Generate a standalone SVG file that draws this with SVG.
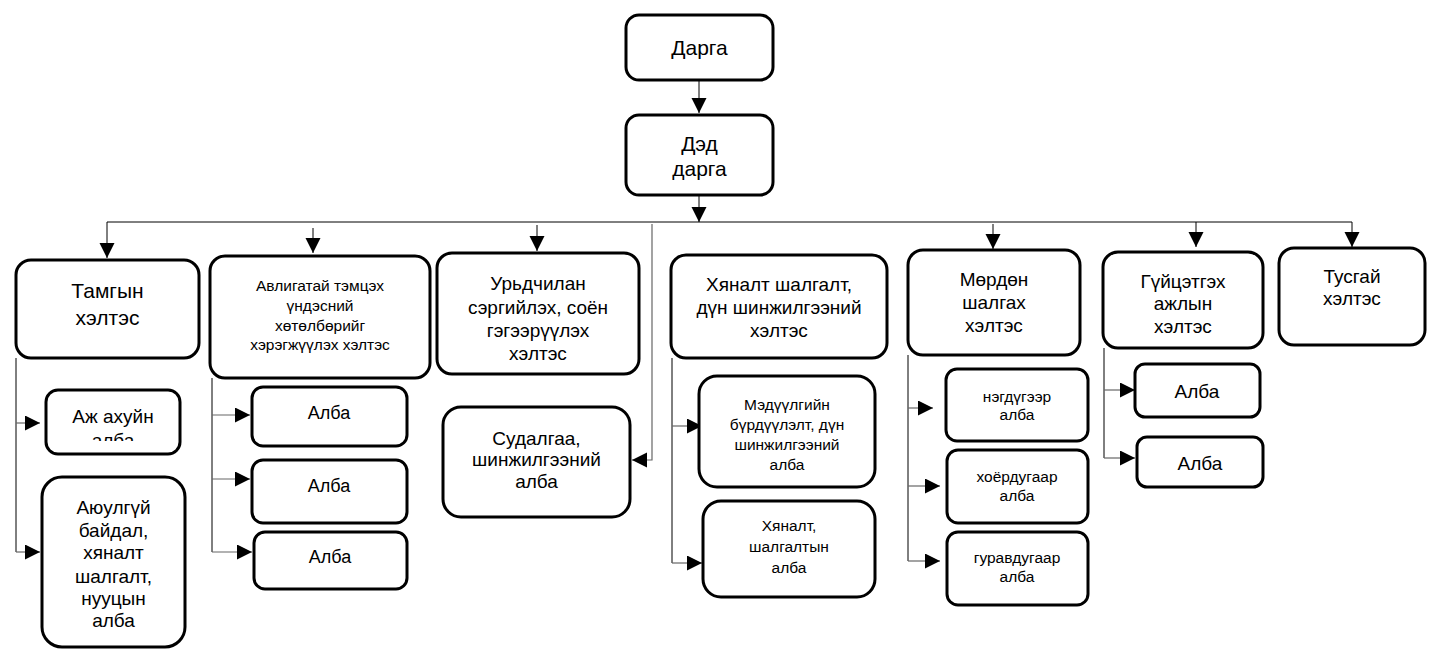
<svg xmlns="http://www.w3.org/2000/svg" width="1441" height="660" viewBox="0 0 1441 660">
<style>
.box{fill:#fff;stroke:#000;stroke-width:3}
.t{font-family:"Liberation Sans",Arial,sans-serif;font-size:19px;fill:#000;text-anchor:middle}
.b{font-size:21px}
.s{font-family:"Liberation Sans",Arial,sans-serif;font-size:15.5px;fill:#000;text-anchor:middle}
.c{fill:none;stroke:#000;stroke-width:1}
.g{fill:none;stroke:#666;stroke-width:1.2}
</style>
<defs>
<marker id="ah" markerUnits="userSpaceOnUse" markerWidth="16" markerHeight="16" refX="15" refY="7.5" orient="auto" viewBox="0 0 16 16">
<path d="M0,0 L15,7.5 L0,15 z" fill="#000"/>
</marker>
<clipPath id="clipAj"><rect x="46" y="390" width="134" height="51"/></clipPath>
</defs>

<g id="connectors">
<line class="c" x1="699" y1="80" x2="699" y2="113" marker-end="url(#ah)"/>
<line class="c" x1="699" y1="195" x2="699" y2="222" marker-end="url(#ah)"/>
<line class="c" x1="107" y1="222" x2="1352" y2="222"/>
<polyline class="c" points="107,222 107,258" marker-end="url(#ah)"/>
<line class="c" x1="313" y1="228" x2="313" y2="253" marker-end="url(#ah)"/>
<line class="c" x1="537" y1="225" x2="537" y2="251" marker-end="url(#ah)"/>
<polyline class="g" points="652,224 652,460 632,460" marker-end="url(#ah)"/>
<line class="c" x1="993" y1="224" x2="993" y2="249" marker-end="url(#ah)"/>
<line class="c" x1="1196" y1="222" x2="1196" y2="247" marker-end="url(#ah)"/>
<line class="c" x1="1352" y1="222" x2="1352" y2="247" marker-end="url(#ah)"/>

<line class="c" x1="16" y1="358" x2="16" y2="552"/>
<line class="g" x1="16" y1="423" x2="40" y2="423" marker-end="url(#ah)"/>
<line class="g" x1="16" y1="552" x2="40" y2="552" marker-end="url(#ah)"/>

<line class="c" x1="212" y1="378" x2="212" y2="552"/>
<line class="g" x1="212" y1="415" x2="250" y2="415" marker-end="url(#ah)"/>
<line class="g" x1="212" y1="479" x2="250" y2="479" marker-end="url(#ah)"/>
<line class="g" x1="212" y1="552" x2="252" y2="552" marker-end="url(#ah)"/>

<line class="c" x1="672" y1="358" x2="672" y2="563"/>
<line class="g" x1="672" y1="426" x2="702" y2="426" marker-end="url(#ah)"/>
<line class="g" x1="672" y1="563" x2="702" y2="563" marker-end="url(#ah)"/>

<line class="c" x1="908" y1="355" x2="908" y2="561"/>
<line class="g" x1="908" y1="408" x2="933" y2="408" marker-end="url(#ah)"/>
<line class="g" x1="908" y1="486" x2="940" y2="486" marker-end="url(#ah)"/>
<line class="g" x1="908" y1="561" x2="940" y2="561" marker-end="url(#ah)"/>

<line class="c" x1="1104" y1="348" x2="1104" y2="458"/>
<line class="g" x1="1104" y1="390" x2="1135" y2="390" marker-end="url(#ah)"/>
<line class="g" x1="1104" y1="458" x2="1135" y2="458" marker-end="url(#ah)"/>
</g>

<g id="darga"><rect class="box" x="626" y="15" width="147" height="65" rx="13"/><text class="t b" x="699.5" y="55">Дарга</text></g>
<g id="ded-darga"><rect class="box" x="626" y="115" width="147" height="80" rx="13"/><text class="t b" x="699.5" y="150.5">Дэд</text><text class="t b" x="699.5" y="175.5">дарга</text></g>

<g id="tamgyn"><rect class="box" x="16" y="260" width="183" height="98" rx="15"/><text class="t b" x="107.5" y="297.5">Тамгын</text><text class="t b" x="107.5" y="324.5">хэлтэс</text></g>
<g id="avligatai"><rect class="box" x="210" y="256" width="220" height="122" rx="15"/>
<text class="s" x="320" y="290.5">Авлигатай тэмцэх</text><text class="s" x="320" y="310.5">үндэсний</text><text class="s" x="320" y="330.5">хөтөлбөрийг</text><text class="s" x="320" y="349.5">хэрэгжүүлэх хэлтэс</text></g>
<g id="urid"><rect class="box" x="437" y="253" width="202" height="121" rx="15"/>
<text class="t" x="538" y="289.5">Урьдчилан</text><text class="t" x="538" y="313.5">сэргийлэх, соён</text><text class="t" x="538" y="336.5">гэгээрүүлэх</text><text class="t" x="538" y="359.5">хэлтэс</text></g>
<g id="khyanalt"><rect class="box" x="671" y="255" width="216" height="103" rx="15"/>
<text class="t" x="779" y="290.5">Хяналт шалгалт,</text><text class="t" x="779" y="313.5">дүн шинжилгээний</text><text class="t" x="779" y="336.5">хэлтэс</text></g>
<g id="mordon"><rect class="box" x="908" y="250" width="172" height="105" rx="15"/>
<text class="t" x="994" y="285.5">Мөрдөн</text><text class="t" x="994" y="308.5">шалгах</text><text class="t" x="994" y="331.5">хэлтэс</text></g>
<g id="guitsetgekh"><rect class="box" x="1103" y="252" width="160" height="96" rx="15"/>
<text class="t" x="1183" y="287.5">Гүйцэтгэх</text><text class="t" x="1183" y="309.5">ажлын</text><text class="t" x="1183" y="332.5">хэлтэс</text></g>
<g id="tusgai"><rect class="box" x="1279" y="248" width="146" height="97" rx="15"/>
<text class="t" x="1352" y="282.5">Тусгай</text><text class="t" x="1352" y="304.5">хэлтэс</text></g>

<g id="aj-akhui"><rect class="box" x="46" y="390" width="134" height="64" rx="12"/>
<g clip-path="url(#clipAj)"><text class="t" x="113" y="422.5">Аж ахуйн</text><text class="t" x="113" y="446.5">алба</text></g></g>
<g id="ayulgui"><rect class="box" x="42" y="477" width="143" height="170" rx="20"/>
<text class="t" x="113.5" y="513.5">Аюулгүй</text><text class="t" x="113.5" y="536.5">байдал,</text><text class="t" x="113.5" y="558.5">хяналт</text><text class="t" x="113.5" y="582.5">шалгалт,</text><text class="t" x="113.5" y="604.5">нууцын</text><text class="t" x="113.5" y="626.5">алба</text></g>

<g id="alba-a1"><rect class="box" x="252" y="387" width="155" height="59" rx="11"/><text class="s" x="329" y="418.5" style="font-size:18px">Алба</text></g>
<g id="alba-a2"><rect class="box" x="252" y="460" width="155" height="63" rx="11"/><text class="s" x="329" y="491.5" style="font-size:18px">Алба</text></g>
<g id="alba-a3"><rect class="box" x="254" y="532" width="153" height="57" rx="11"/><text class="s" x="330" y="562.5" style="font-size:18px">Алба</text></g>

<g id="sudalgaa"><rect class="box" x="443" y="407" width="187" height="110" rx="18"/>
<text class="t" x="536.5" y="444.5">Судалгаа,</text><text class="t" x="536.5" y="465.5">шинжилгээний</text><text class="t" x="536.5" y="487.5">алба</text></g>

<g id="medeelgiin"><rect class="box" x="699" y="376" width="176" height="111" rx="18"/>
<text class="s" x="787" y="409.5">Мэдүүлгийн</text><text class="s" x="787" y="429.5">бүрдүүлэлт, дүн</text><text class="s" x="787" y="449.5">шинжилгээний</text><text class="s" x="787" y="469.5">алба</text></g>
<g id="khyanalt-shalgaltyn"><rect class="box" x="703" y="501" width="172" height="96" rx="18"/>
<text class="s" x="789" y="530.5">Хяналт,</text><text class="s" x="789" y="551.5">шалгалтын</text><text class="s" x="789" y="572.5">алба</text></g>

<g id="negduger"><rect class="box" x="946" y="369" width="142" height="72" rx="11"/>
<text class="s" x="1017" y="401.5">нэгдүгээр</text><text class="s" x="1017" y="419.5">алба</text></g>
<g id="khoerdugaar"><rect class="box" x="947" y="450" width="141" height="73" rx="11"/>
<text class="s" x="1017" y="481.5">хоёрдугаар</text><text class="s" x="1017" y="500.5">алба</text></g>
<g id="guravdugaar"><rect class="box" x="947" y="532" width="141" height="73" rx="11"/>
<text class="s" x="1017" y="562.5">гуравдугаар</text><text class="s" x="1017" y="581.5">алба</text></g>

<g id="alba-g1"><rect class="box" x="1135" y="364" width="125" height="53" rx="10"/><text class="t" x="1197" y="397.5">Алба</text></g>
<g id="alba-g2"><rect class="box" x="1137" y="437" width="126" height="50" rx="10"/><text class="t" x="1200" y="469.5">Алба</text></g>
</svg>
